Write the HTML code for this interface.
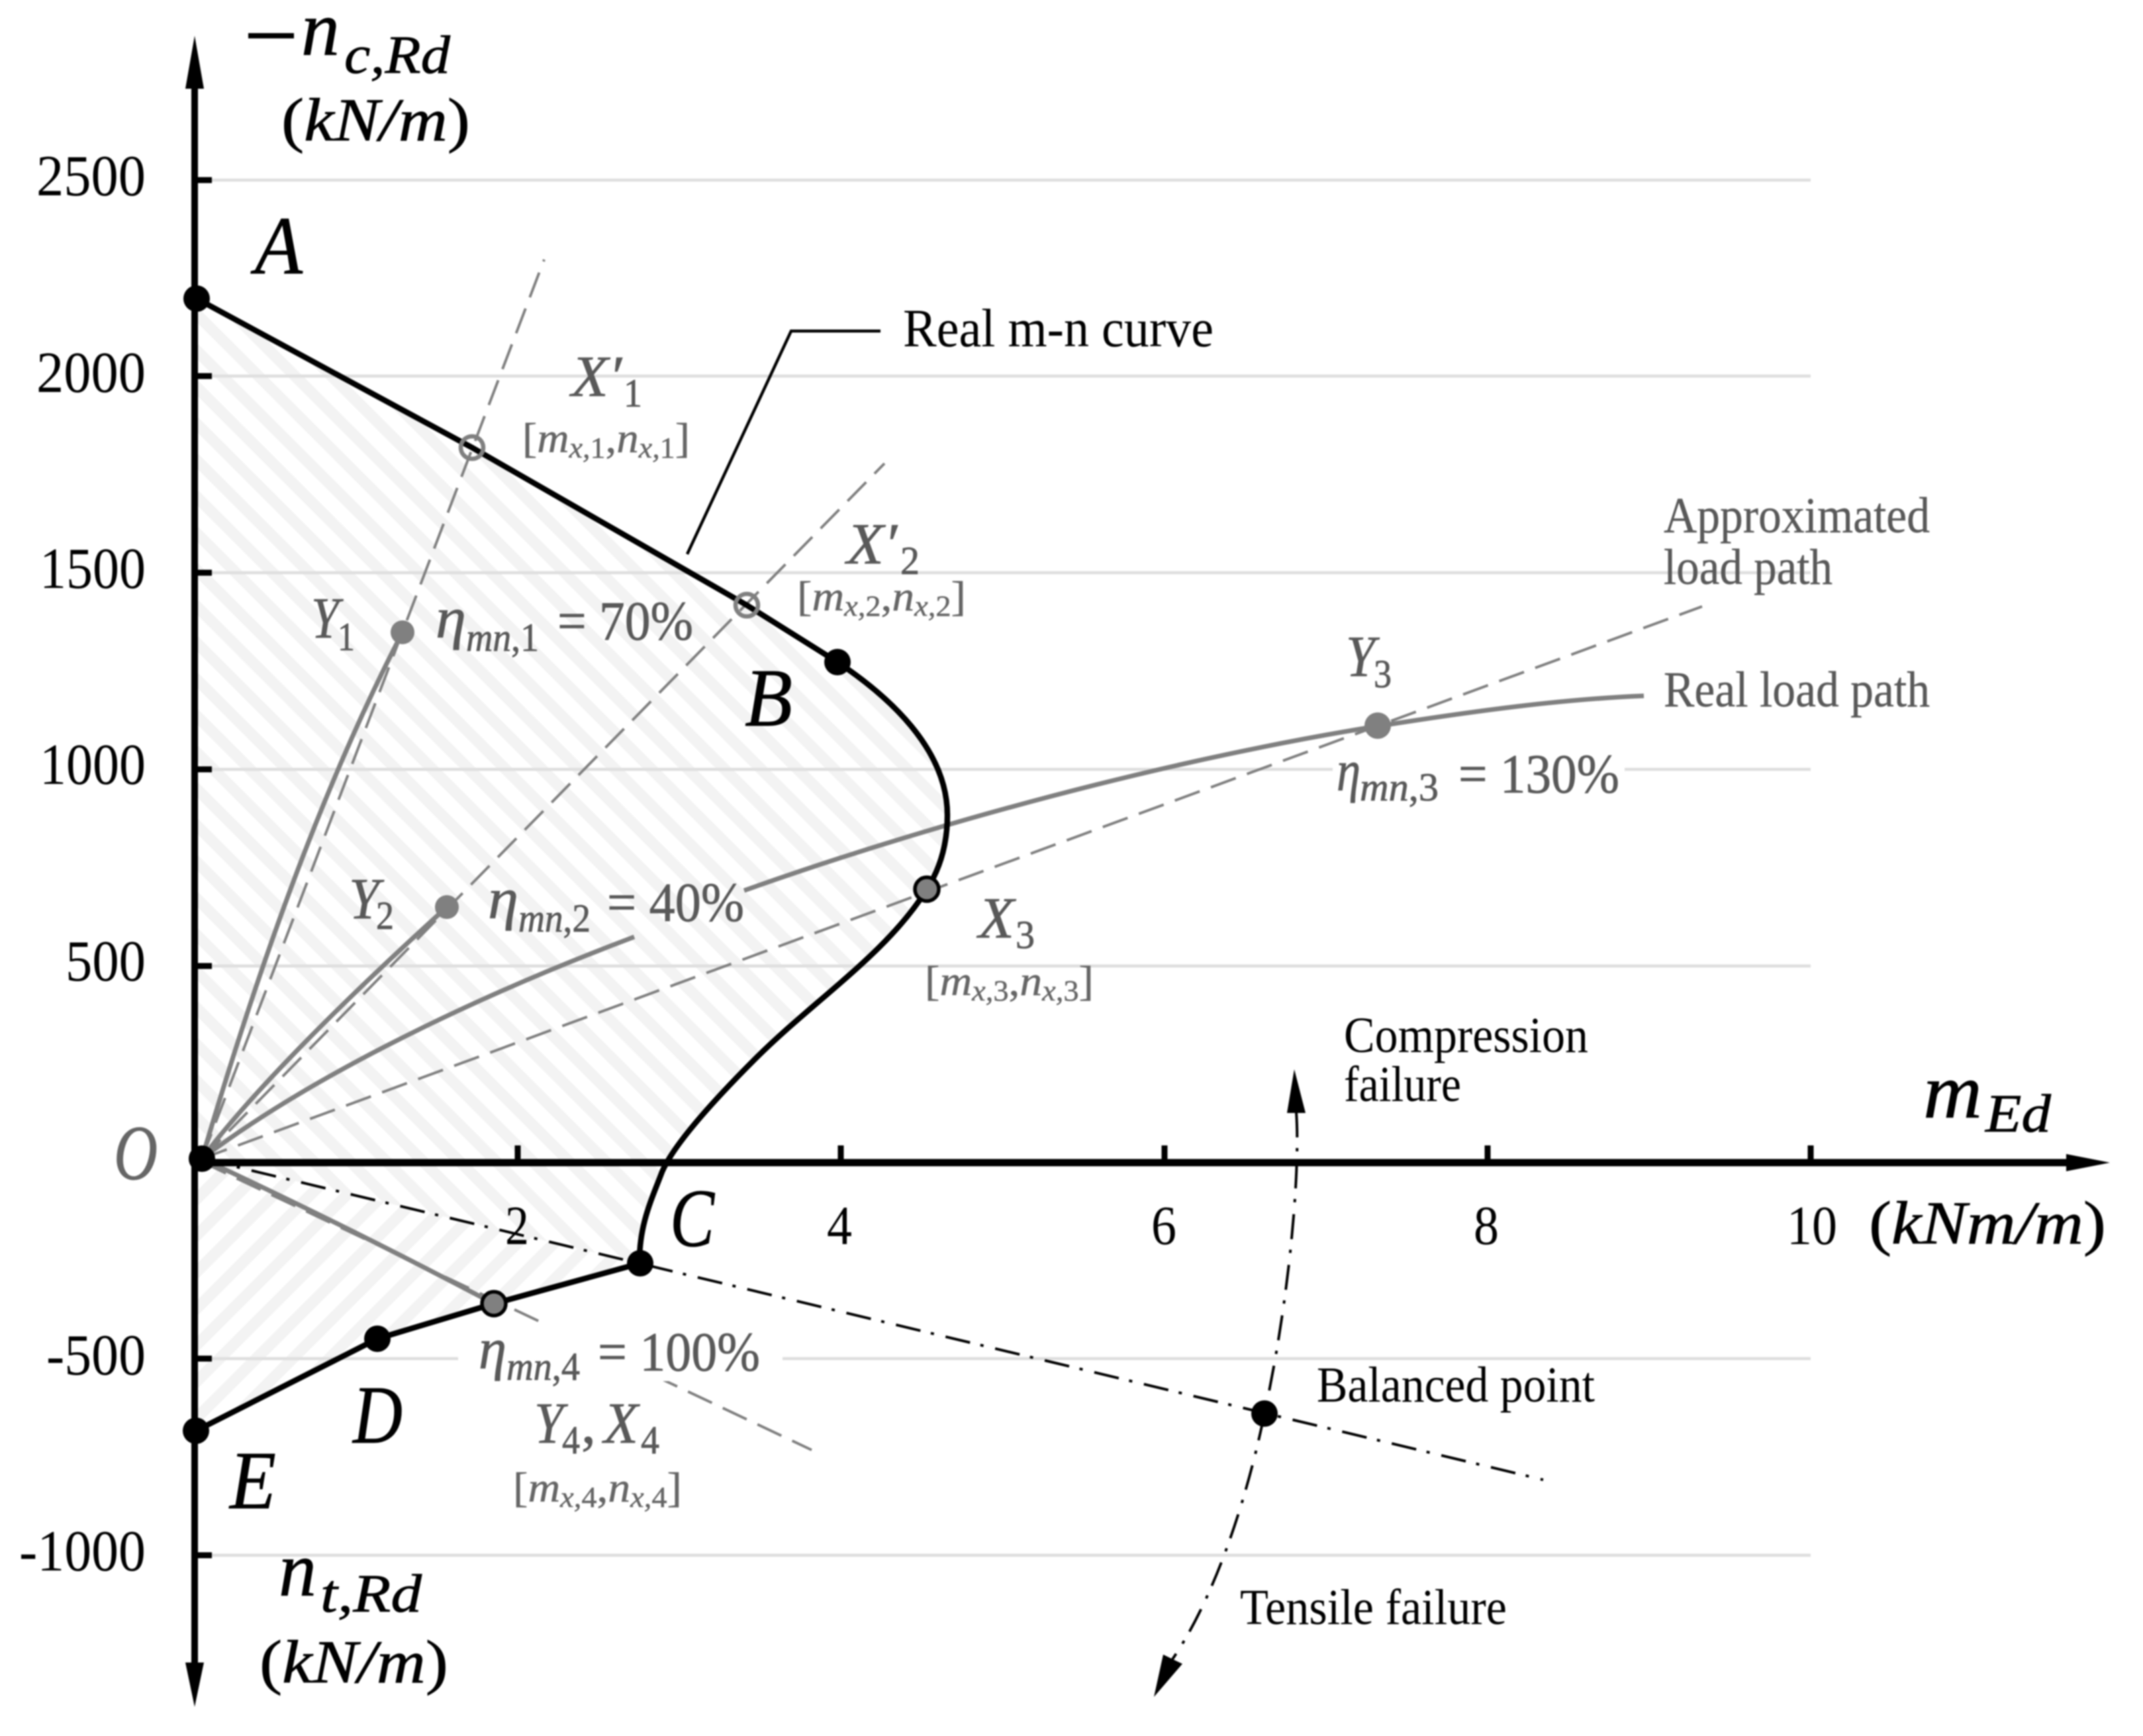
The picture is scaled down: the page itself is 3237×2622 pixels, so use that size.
<!DOCTYPE html>
<html><head><meta charset="utf-8"><style>
html,body{margin:0;padding:0;background:#fff;overflow:hidden}
svg{display:block;filter:blur(1px)}
text{font-family:"Liberation Serif",serif}
.i{font-style:italic}
.u{font-style:normal}
.g{fill:#595959;stroke:#595959;stroke-width:.8}
.l{fill:#666;stroke:#666;stroke-width:.5}
.k{stroke:#000;stroke-width:.8}
</style></head><body>
<svg xmlns="http://www.w3.org/2000/svg" width="3237" height="2622" viewBox="0 0 3237 2622">
<defs>
<pattern id="h1" width="39" height="39" patternUnits="userSpaceOnUse" patternTransform="rotate(45)"><rect width="39" height="17" fill="#f3f3f3"/></pattern>
<pattern id="h2" width="39" height="39" patternUnits="userSpaceOnUse" patternTransform="rotate(-45)"><rect width="39" height="17" fill="#f3f3f3"/></pattern>
</defs>
<rect width="3237" height="2622" fill="#fff"/>
<!-- hatch -->
<path d="M294 451L713 676L1128 914L1265 1000C1340 1050 1431 1130 1431 1231C1431 1275 1420 1312 1400 1343C1340 1440 1230 1510 1140 1600C1060 1680 1015 1735 1000 1770C985 1810 965 1850 966 1908L305 1750L294 1750Z" fill="url(#h1)"/>
<path d="M294 1750L305 1750L966 1908L746 1969L570 2022L296 2161L294 2161Z" fill="url(#h2)"/>
<!-- grid -->
<g stroke="#dedede" stroke-width="4.5">
<line x1="320" y1="272" x2="2735" y2="272"/>
<line x1="320" y1="568" x2="2735" y2="568"/>
<line x1="320" y1="865" x2="2735" y2="865"/>
<line x1="320" y1="1162" x2="2735" y2="1162"/>
<line x1="320" y1="1459" x2="2735" y2="1459"/>
<line x1="320" y1="2052" x2="2735" y2="2052"/>
<line x1="320" y1="2349" x2="2735" y2="2349"/>
</g>
<!-- dashed approximated paths -->
<g stroke="#808080" stroke-width="4" stroke-dasharray="40 18" fill="none">
<line x1="305" y1="1750" x2="822" y2="392"/>
<line x1="305" y1="1750" x2="1336" y2="700"/>
<line x1="305" y1="1750" x2="2571" y2="916"/>
<line x1="305" y1="1755" x2="1226" y2="2190"/>
</g>
<!-- real load paths -->
<g stroke="#808080" stroke-width="7" fill="none">
<path d="M305 1750C370 1530 470 1220 608 955"/>
<path d="M305 1750C380 1650 520 1510 675 1370"/>
<path d="M305 1750C450 1640 680 1520 958 1415"/>
<path d="M1124 1345C1420 1240 1760 1150 2061 1100C2230 1073 2360 1056 2483 1051"/>
<path d="M305 1750Q520 1850 746 1969"/>
</g>
<!-- text masks -->
<rect x="692" y="2000" width="490" height="86" fill="#fff"/>
<rect x="2013" y="1140" width="441" height="70" fill="#fff"/>
<!-- dash-dot -->
<g stroke="#000" stroke-width="4" stroke-dasharray="38 16 5 18" fill="none">
<line x1="305" y1="1750" x2="2331" y2="2235"/>
<path d="M1958 1680C1964 1760 1950 1950 1910 2135C1880 2280 1830 2420 1771 2506"/>
</g>
<polygon points="1955,1615 1972,1681 1944,1681" fill="#000"/>
<polygon points="1743,2563 1757,2499 1786,2513" fill="#000"/>
<!-- axes -->
<g stroke="#000" fill="none">
<line x1="294" y1="130" x2="294" y2="2515" stroke-width="10"/>
<line x1="294" y1="1756" x2="3125" y2="1756" stroke-width="11"/>
<g stroke-width="9">
<line x1="294" y1="272" x2="320" y2="272"/><line x1="294" y1="568" x2="320" y2="568"/>
<line x1="294" y1="865" x2="320" y2="865"/><line x1="294" y1="1162" x2="320" y2="1162"/>
<line x1="294" y1="1459" x2="320" y2="1459"/><line x1="294" y1="2052" x2="320" y2="2052"/>
<line x1="294" y1="2349" x2="320" y2="2349"/>
<line x1="782" y1="1730" x2="782" y2="1756"/><line x1="1270" y1="1730" x2="1270" y2="1756"/>
<line x1="1759" y1="1730" x2="1759" y2="1756"/><line x1="2247" y1="1730" x2="2247" y2="1756"/>
<line x1="2735" y1="1730" x2="2735" y2="1756"/>
</g>
</g>
<polygon points="294,54 308,134 280,134" fill="#000"/>
<polygon points="294,2578 308,2511 280,2511" fill="#000"/>
<polygon points="3187,1756 3121,1743 3121,1769" fill="#000"/>
<!-- m-n curve -->
<path d="M297 451L713 676L1128 914L1265 1000C1340 1050 1431 1130 1431 1231C1431 1275 1420 1312 1400 1343C1340 1440 1230 1510 1140 1600C1060 1680 1015 1735 1000 1770C985 1810 965 1850 966 1908M967 1908L746 1969L570 2022L296 2161" fill="none" stroke="#000" stroke-width="8.5"/>
<!-- leader -->
<path d="M1330 500L1195 500L1038 837" fill="none" stroke="#000" stroke-width="4.5"/>
<!-- points -->
<g fill="#000">
<circle cx="297" cy="451" r="20"/><circle cx="1265" cy="1000" r="20"/>
<circle cx="967" cy="1908" r="20"/><circle cx="570" cy="2022" r="20"/>
<circle cx="296" cy="2161" r="20"/><circle cx="305" cy="1750" r="20"/>
<circle cx="1910" cy="2135" r="20"/>
</g>
<g fill="none" stroke="#808080" stroke-width="6.5">
<circle cx="713" cy="676" r="17"/><circle cx="1128" cy="914" r="17"/>
</g>
<g fill="#808080">
<circle cx="608" cy="955" r="18"/><circle cx="675" cy="1370" r="18"/><circle cx="2081" cy="1096" r="20"/>
</g>
<g fill="#808080" stroke="#000" stroke-width="5.5">
<circle cx="1400" cy="1343" r="18"/><circle cx="746" cy="1969" r="18"/>
</g>
<!-- y ticks -->
<g font-size="88" text-anchor="end">
<text x="220" y="295" textLength="165" lengthAdjust="spacingAndGlyphs">2500</text>
<text x="220" y="592" textLength="165" lengthAdjust="spacingAndGlyphs">2000</text>
<text x="220" y="888" textLength="160" lengthAdjust="spacingAndGlyphs">1500</text>
<text x="220" y="1184" textLength="160" lengthAdjust="spacingAndGlyphs">1000</text>
<text x="220" y="1481" textLength="121" lengthAdjust="spacingAndGlyphs">500</text>
<text x="220" y="2076" textLength="150" lengthAdjust="spacingAndGlyphs">-500</text>
<text x="220" y="2372" textLength="191" lengthAdjust="spacingAndGlyphs">-1000</text>
</g>
<!-- x ticks -->
<g font-size="84" text-anchor="middle">
<text x="781" y="1879" textLength="36" lengthAdjust="spacingAndGlyphs">2</text>
<text x="1268" y="1879" textLength="38" lengthAdjust="spacingAndGlyphs">4</text>
<text x="1758" y="1879" textLength="38" lengthAdjust="spacingAndGlyphs">6</text>
<text x="2245" y="1879" textLength="38" lengthAdjust="spacingAndGlyphs">8</text>
<text x="2737" y="1879" textLength="76" lengthAdjust="spacingAndGlyphs">10</text>
</g>
<!-- axis titles -->
<rect x="375" y="50" width="69" height="8" fill="#000"/>
<text class="i k" x="455" y="83" font-size="118" textLength="58" lengthAdjust="spacingAndGlyphs">n</text>
<text class="i k" x="520" y="110" font-size="82" textLength="160" lengthAdjust="spacingAndGlyphs">c,Rd</text>
<text class="k" x="425" y="212" font-size="92" textLength="285" lengthAdjust="spacingAndGlyphs">(<tspan class="i">kN/m</tspan>)</text>
<text class="i k" x="421" y="2410" font-size="118" textLength="57" lengthAdjust="spacingAndGlyphs">n</text>
<text class="i k" x="484" y="2434" font-size="82" textLength="153" lengthAdjust="spacingAndGlyphs">t,Rd</text>
<text class="k" x="392" y="2541" font-size="92" textLength="285" lengthAdjust="spacingAndGlyphs">(<tspan class="i">kN/m</tspan>)</text>
<text class="i k" x="2905" y="1688" font-size="118" textLength="89" lengthAdjust="spacingAndGlyphs">m</text>
<text class="i k" x="2999" y="1709" font-size="82" textLength="99" lengthAdjust="spacingAndGlyphs">Ed</text>
<text class="k" x="2823" y="1878" font-size="92" textLength="358" lengthAdjust="spacingAndGlyphs">(<tspan class="i">kNm/m</tspan>)</text>
<!-- letters -->
<g class="i k" font-size="125">
<text x="385" y="413" textLength="72" lengthAdjust="spacingAndGlyphs">A</text>
<text x="1125" y="1096" textLength="72" lengthAdjust="spacingAndGlyphs">B</text>
<text x="1012" y="1882" textLength="67" lengthAdjust="spacingAndGlyphs">C</text>
<text x="533" y="2179" textLength="75" lengthAdjust="spacingAndGlyphs">D</text>
<text x="347" y="2278" textLength="70" lengthAdjust="spacingAndGlyphs">E</text>
</g>
<text class="i" x="172" y="1781" font-size="118" textLength="66" lengthAdjust="spacingAndGlyphs" fill="#666" stroke="#666" stroke-width="1">O</text>
<!-- X' labels -->
<g class="g" font-size="88">
<text class="i" x="863" y="598" textLength="76" lengthAdjust="spacingAndGlyphs">X′</text><text x="942" y="614" font-size="60" textLength="28" lengthAdjust="spacingAndGlyphs">1</text>
<text class="i" x="1279" y="851" textLength="76" lengthAdjust="spacingAndGlyphs">X′</text><text x="1360" y="867" font-size="60" textLength="29" lengthAdjust="spacingAndGlyphs">2</text>
<text class="i" x="1478" y="1416" textLength="54" lengthAdjust="spacingAndGlyphs">X</text><text x="1534" y="1432" font-size="60" textLength="29" lengthAdjust="spacingAndGlyphs">3</text>
<text class="i" x="470" y="963" textLength="42" lengthAdjust="spacingAndGlyphs">Y</text><text x="510" y="982" font-size="60" textLength="26" lengthAdjust="spacingAndGlyphs">1</text>
<text class="i" x="527" y="1387" textLength="46" lengthAdjust="spacingAndGlyphs">Y</text><text x="568" y="1403" font-size="60" textLength="27" lengthAdjust="spacingAndGlyphs">2</text>
<text class="i" x="2033" y="1021" textLength="44" lengthAdjust="spacingAndGlyphs">Y</text><text x="2075" y="1038" font-size="60" textLength="27" lengthAdjust="spacingAndGlyphs">3</text>
<text class="i" x="807" y="2179" textLength="44" lengthAdjust="spacingAndGlyphs">Y</text><text x="849" y="2195" font-size="60" textLength="27" lengthAdjust="spacingAndGlyphs">4</text>
<text x="878" y="2179">,</text>
<text class="i" x="912" y="2179" textLength="52" lengthAdjust="spacingAndGlyphs">X</text><text x="968" y="2195" font-size="60" textLength="28" lengthAdjust="spacingAndGlyphs">4</text>
</g>
<!-- coordinate labels -->
<g class="l" font-size="64">
<text x="789" y="683" textLength="253" lengthAdjust="spacingAndGlyphs">[<tspan class="i">m</tspan><tspan class="i" font-size="44" dy="8">x,</tspan><tspan font-size="44">1</tspan><tspan dy="-8">,</tspan><tspan class="i">n</tspan><tspan class="i" font-size="44" dy="8">x,</tspan><tspan font-size="44">1</tspan><tspan dy="-8">]</tspan></text>
<text x="1204" y="922" textLength="255" lengthAdjust="spacingAndGlyphs">[<tspan class="i">m</tspan><tspan class="i" font-size="44" dy="8">x,</tspan><tspan font-size="44">2</tspan><tspan dy="-8">,</tspan><tspan class="i">n</tspan><tspan class="i" font-size="44" dy="8">x,</tspan><tspan font-size="44">2</tspan><tspan dy="-8">]</tspan></text>
<text x="1397" y="1503" textLength="255" lengthAdjust="spacingAndGlyphs">[<tspan class="i">m</tspan><tspan class="i" font-size="44" dy="8">x,</tspan><tspan font-size="44">3</tspan><tspan dy="-8">,</tspan><tspan class="i">n</tspan><tspan class="i" font-size="44" dy="8">x,</tspan><tspan font-size="44">3</tspan><tspan dy="-8">]</tspan></text>
<text x="775" y="2268" textLength="255" lengthAdjust="spacingAndGlyphs">[<tspan class="i">m</tspan><tspan class="i" font-size="44" dy="8">x,</tspan><tspan font-size="44">4</tspan><tspan dy="-8">,</tspan><tspan class="i">n</tspan><tspan class="i" font-size="44" dy="8">x,</tspan><tspan font-size="44">4</tspan><tspan dy="-8">]</tspan></text>
</g>
<!-- eta labels -->
<g class="g" font-size="84">
<text class="i" x="658" y="963" font-size="88" textLength="46" lengthAdjust="spacingAndGlyphs">η</text><text x="704" y="983" font-size="60" textLength="110" lengthAdjust="spacingAndGlyphs"><tspan class="i">mn</tspan>,1</text><text x="842" y="966" textLength="205" lengthAdjust="spacingAndGlyphs">= 70%</text>
<text class="i" x="737" y="1387" font-size="88" textLength="46" lengthAdjust="spacingAndGlyphs">η</text><text x="783" y="1407" font-size="60" textLength="109" lengthAdjust="spacingAndGlyphs"><tspan class="i">mn</tspan>,2</text><text x="917" y="1391" textLength="207" lengthAdjust="spacingAndGlyphs">= 40%</text>
<text class="i" x="2019" y="1194" font-size="88" textLength="36" lengthAdjust="spacingAndGlyphs">η</text><text x="2054" y="1209" font-size="60" textLength="119" lengthAdjust="spacingAndGlyphs"><tspan class="i">mn</tspan>,3</text><text x="2203" y="1197" textLength="243" lengthAdjust="spacingAndGlyphs">= 130%</text>
<text class="i" x="723" y="2067" font-size="88" textLength="42" lengthAdjust="spacingAndGlyphs">η</text><text x="765" y="2084" font-size="60" textLength="111" lengthAdjust="spacingAndGlyphs"><tspan class="i">mn</tspan>,4</text><text x="903" y="2070" textLength="245" lengthAdjust="spacingAndGlyphs">= 100%</text>
</g>
<!-- annotations -->
<g font-size="76">
<text x="1364" y="523" font-size="82" textLength="469" lengthAdjust="spacingAndGlyphs">Real m-n curve</text>
<text x="2030" y="1589" textLength="369" lengthAdjust="spacingAndGlyphs">Compression</text>
<text x="2030" y="1663" textLength="177" lengthAdjust="spacingAndGlyphs">failure</text>
<text x="1989" y="2117" textLength="420" lengthAdjust="spacingAndGlyphs">Balanced point</text>
<text x="1873" y="2453" textLength="403" lengthAdjust="spacingAndGlyphs">Tensile failure</text>
</g>
<g class="g" font-size="76" style="stroke-width:.4">
<text x="2513" y="804" textLength="402" lengthAdjust="spacingAndGlyphs">Approximated</text>
<text x="2513" y="882" textLength="255" lengthAdjust="spacingAndGlyphs">load path</text>
<text x="2513" y="1067" textLength="402" lengthAdjust="spacingAndGlyphs">Real load path</text>
</g>
</svg>
</body></html>
